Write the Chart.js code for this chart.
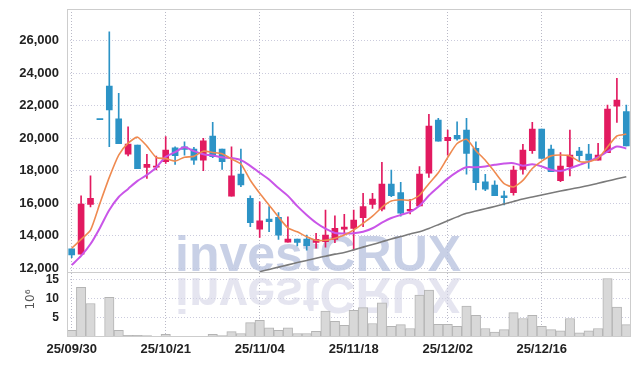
<!DOCTYPE html>
<html>
<head>
<meta charset="utf-8">
<script src="https://cdn.jsdelivr.net/npm/chart.js@4.4.1/dist/chart.umd.min.js"></script>
<style>
  html, body { margin: 0; padding: 0; background: #fff; }
  canvas { display: block; }
</style>
</head>
<body>
<canvas id="chart" width="639" height="366"></canvas>
<script>
// ---------- DATA ----------
const dates = [
  '25/09/30','25/10/01','25/10/02','25/10/10','25/10/13','25/10/14','25/10/15','25/10/16','25/10/17','25/10/20',
  '25/10/21','25/10/22','25/10/23','25/10/24','25/10/27','25/10/28','25/10/29','25/10/30','25/10/31','25/11/03',
  '25/11/04','25/11/05','25/11/06','25/11/07','25/11/10','25/11/11','25/11/12','25/11/13','25/11/14','25/11/17',
  '25/11/18','25/11/19','25/11/20','25/11/21','25/11/24','25/11/25','25/11/26','25/11/27','25/11/28','25/12/01',
  '25/12/02','25/12/03','25/12/04','25/12/05','25/12/08','25/12/09','25/12/10','25/12/11','25/12/12','25/12/15',
  '25/12/16','25/12/17','25/12/18','25/12/19','25/12/22','25/12/23','25/12/24','25/12/26','25/12/29','25/12/30'
];
const opens = [
  13200,12870,15940,21150,23210,21190,19030,19590,18210,18230,
  18560,19420,19480,19340,18660,20140,19340,16450,17800,16310,
  14420,15040,15140,13620,13810,13810,13600,13650,13790,14420,
  14460,15120,15940,15650,17190,16660,15530,15840,17850,21120,
  19850,20180,20510,19380,17330,17130,16470,16660,18090,19240,
  20570,19340,17390,18260,19220,19030,18660,19120,21980,21640
];
const highs = [
  13200,16470,17700,21150,26550,22760,20710,19590,19010,18900,
  20100,19480,19790,19440,20000,20980,19340,19480,19340,16470,
  16100,15800,15430,15180,13810,14050,14160,15590,15240,15330,
  15590,16620,16620,18520,18050,17290,16250,18260,21470,21230,
  20510,21020,21230,19790,17780,17390,16760,18300,19630,20980,
  20570,19590,19120,20510,19440,19630,19690,22050,23690,22050
];
const lows = [
  12660,12870,15780,21150,19480,19670,18910,18130,17540,18050,
  18460,18400,18970,18400,18010,18810,18090,16450,17030,14570,
  13910,14260,13790,13620,13380,13130,13240,13300,13580,14100,
  13140,14570,15690,15530,16410,15220,15350,15840,17600,19830,
  18970,19890,17800,16820,16780,16470,15900,16510,17800,19070,
  18770,17950,17330,17680,18600,18150,18660,19120,20980,19530
];
const closes = [
  12830,15960,16310,21150,21740,19670,19650,18130,18400,18270,
  19280,18930,19320,18660,19850,18870,18560,17700,17130,14810,
  14920,14870,14050,13810,13600,13400,13790,14050,14460,14550,
  14980,15800,16270,17190,16470,15390,15630,17800,20750,19830,
  20060,19960,19070,17270,16880,16470,16350,18050,19280,20570,
  18770,17950,18300,18970,18930,18660,18970,21800,22350,19530
];
// volume, millions of shares
const volumes = [
  1.75,12.9,8.7,0.2,10.3,1.75,0.45,0.45,0.4,0.2,
  0.7,0.2,0.2,0.2,0.2,0.7,0.4,1.4,0.9,3.75,
  4.35,2.4,1.7,2.4,0.9,0.9,1.5,6.7,4.1,3.0,
  6.95,7.65,3.5,8.85,2.8,3.2,2.2,10.9,12.2,3.3,
  3.3,2.8,8.0,5.65,2.2,1.3,1.9,6.35,4.8,5.6,
  2.8,1.9,1.6,4.8,1.1,1.6,2.2,15.2,7.8,3.2
];
const ma5 = [
  13240,13790,14360,16000,17600,18970,19700,20070,19520,18820,
  18750,18600,18840,18890,19210,19130,19050,18730,18420,17420,
  16620,15890,15160,14490,14250,13950,13730,13730,13860,14050,
  14370,14770,15210,15760,16140,16220,16190,16500,17210,17880,
  18820,19680,19940,19240,18650,17930,17210,17010,17410,18140,
  18600,18920,18970,18910,18580,18560,18770,19470,20140,20260
];
const ma10 = [
  12210,12770,13500,14490,15590,16390,16890,17380,17750,18210,
  18860,19150,19450,19210,19020,18940,18830,18790,18660,18310,
  17880,17470,16940,16460,15830,15290,14810,14440,14180,14150,
  14160,14250,14470,14810,15100,15290,15480,15850,16480,17010,
  17520,17940,18220,18220,18270,18370,18450,18470,18320,18400,
  18270,18070,17990,18160,18360,18580,18850,19180,19490,19380
];
const maLong = [
  null,null,null,null,null,null,null,null,null,null,
  null,null,null,null,null,null,null,null,null,null,
  11800,11940,12080,12220,12360,12490,12630,12750,12880,12980,
  13140,13310,13470,13640,13810,13960,14120,14260,14460,14690,
  14930,15170,15390,15530,15670,15810,15960,16120,16270,16390,
  16520,16640,16760,16870,16980,17100,17240,17370,17510,17640
];
const priceTicks = [12000,14000,16000,18000,20000,22000,24000,26000];
const volumeTicks = [5,10,15];
const labelEvery = 10;

// ---------- STYLE ----------
const UP = '#e21a60', DOWN = '#2c93c6';
const candleColors = closes.map((c, i) => c > opens[i] ? UP : DOWN);
const FONT = '"Liberation Sans", Arial, sans-serif';
Chart.defaults.font.family = FONT;
Chart.defaults.color = '#222';

// watermark, frame, volume unit
const decor = {
  id: 'decor',
  beforeDatasetsDraw(chart){
    const {ctx, chartArea:a, scales} = chart;
    const base = scales.yv.top - 1;
    const x = a.left + 108;
    ctx.save();
    ctx.font = 'bold 50px "Liberation Sans", sans-serif';
    ctx.textBaseline = 'alphabetic';
    ctx.fillStyle = 'rgba(186,196,224,0.8)';
    ctx.fillText('investCRUX', x, base);
    ctx.translate(0, 2*base + 7);
    ctx.scale(1, -1);
    ctx.fillStyle = 'rgba(212,212,230,0.6)';
    ctx.fillText('investCRUX', x, base);
    ctx.restore();
  },
  afterDatasetsDraw(chart){
    const {ctx, chartArea:a, scales} = chart;
    ctx.save();
    ctx.strokeStyle = '#cdcdcd';
    ctx.lineWidth = 1;
    ctx.strokeRect(Math.round(a.left)+0.5, Math.round(a.top)+0.5, Math.round(a.width)-1, Math.round(a.height)-1);
    const ys = Math.round(scales.yv.top)+0.5;
    ctx.beginPath(); ctx.moveTo(a.left, ys); ctx.lineTo(a.right, ys); ctx.stroke();
    ctx.restore();
  },
  afterDraw(chart){
    const {ctx, scales} = chart;
    const s = scales.yv;
    ctx.save();
    ctx.translate(31, s.getPixelForValue(10) + 1);
    ctx.rotate(-Math.PI / 2);
    ctx.fillStyle = '#555';
    ctx.textBaseline = 'middle';
    ctx.textAlign = 'center';
    ctx.font = '12px "DejaVu Sans", sans-serif';
    ctx.fillText('10⁶', 0, 0);
    ctx.restore();
  }
};

const dotted = [1, 2];
const noPad = s => { s.paddingTop = 0; s.paddingBottom = 0; s.paddingLeft = 0; s.paddingRight = 0; };

new Chart(document.getElementById('chart'), {
  data: {
    labels: dates,
    datasets: [
      { type:'line', label:'MA5', data: ma5, yAxisID:'y', borderColor:'#ef8a50', borderWidth:1.6, pointRadius:0, tension:0.2, order:0 },
      { type:'line', label:'MA10', data: ma10, yAxisID:'y', borderColor:'#c955e8', borderWidth:2, pointRadius:0, tension:0.3, order:1 },
      { type:'line', label:'MA long', data: maLong, yAxisID:'y', borderColor:'#7a7a7a', borderWidth:1.6, pointRadius:0, tension:0.3, order:2 },
      { type:'bar', label:'body', data: opens.map((o,i)=>[o, closes[i]]), yAxisID:'y', backgroundColor: candleColors,
        barThickness:6, minBarLength:1, grouped:false, borderWidth:0, order:3 },
      { type:'bar', label:'wick', data: lows.map((l,i)=>[l, highs[i]]), yAxisID:'y', backgroundColor: candleColors,
        barThickness:1, grouped:false, borderWidth:0, order:4 },
      { type:'bar', label:'volume', data: volumes, yAxisID:'yv', backgroundColor:'#d8d8d8', borderColor:'#b4b4b4',
        borderWidth:1, barPercentage:1, categoryPercentage:1, grouped:false, order:5 }
    ]
  },
  options: {
    responsive:false,
    animation:false,
    layout:{ padding:{ top:9, right:8, left:0, bottom:0 } },
    plugins:{ legend:{display:false}, tooltip:{enabled:false} },
    scales:{
      x:{
        type:'category', offset:true,
        grid:{ offset:false, color:'#b9b9c6', drawTicks:false },
        border:{ display:false, dash:dotted },
        ticks:{
          autoSkip:false, maxRotation:0, padding:5,
          font:{ size:13, weight:'bold' }, color:'#222',
          callback(v, i){ return i % labelEvery === 0 ? dates[i] : null; }
        },
        afterFit(s){ s.height = 29; noPad(s); }
      },
      y:{
        position:'left', stack:'panels', stackWeight:4.08, weight:2,
        min:11754, max:27950,
        grid:{ color:'#cbcbdd', drawTicks:false },
        border:{ display:false, dash:dotted },
        ticks:{ autoSkip:false, padding:8, font:{ size:13, weight:'bold' }, color:'#222',
          callback:v => v.toLocaleString('en-US') },
        afterBuildTicks(s){ s.ticks = priceTicks.map(v => ({value:v})); },
        afterFit(s){ s.width = 67; noPad(s); }
      },
      yv:{
        position:'left', stack:'panels', stackWeight:1, weight:1,
        min:0, max:16.77,
        grid:{ color:'#cbcbdd', drawTicks:false },
        border:{ display:false, dash:dotted },
        ticks:{ autoSkip:false, padding:8, font:{ size:12, weight:'bold' }, color:'#222',
          callback:v => String(v) },
        afterBuildTicks(s){ s.ticks = volumeTicks.map(v => ({value:v})); },
        afterFit(s){ s.width = 67; noPad(s); }
      }
    }
  },
  plugins:[decor]
});
</script>
</body>
</html>
